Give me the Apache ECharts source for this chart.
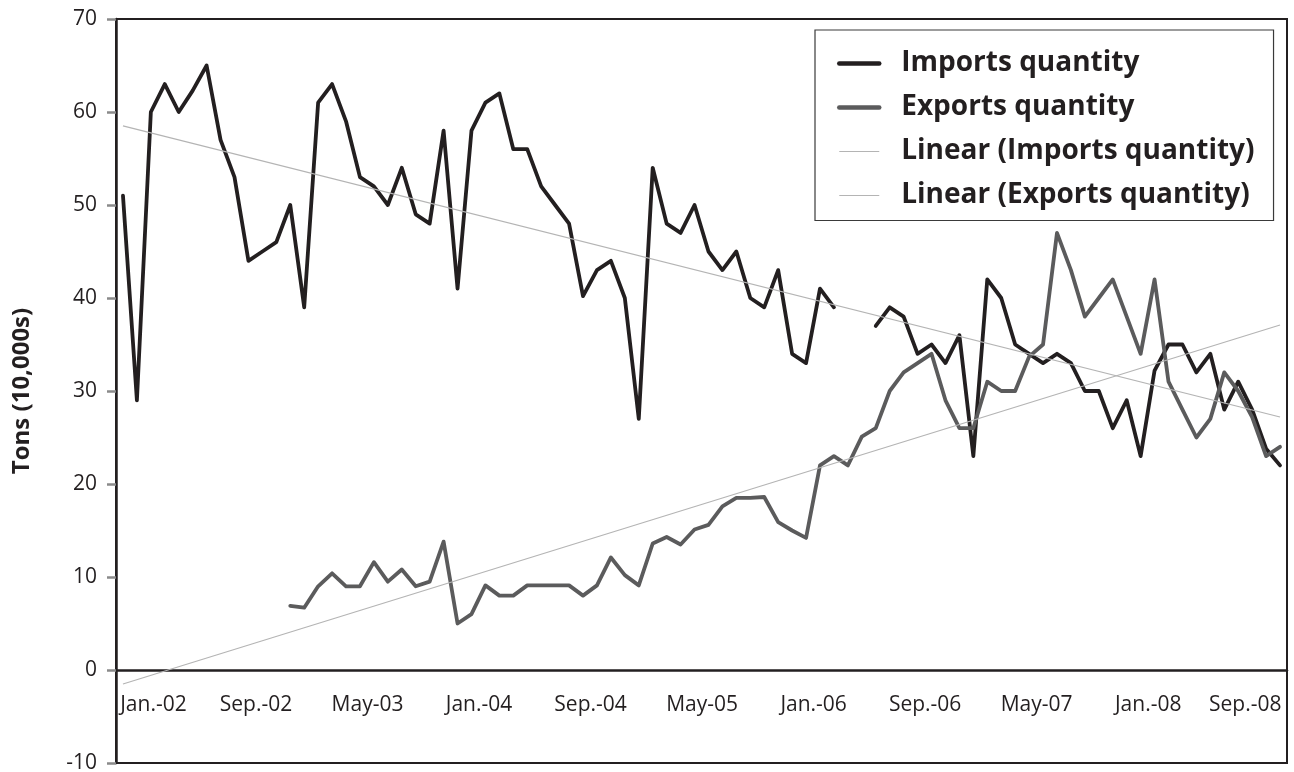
<!DOCTYPE html>
<html>
<head>
<meta charset="utf-8">
<script src="https://cdn.jsdelivr.net/npm/echarts@6/dist/echarts.min.js"></script>
<style>
html,body{margin:0;padding:0;background:#fff;}
#chart{width:1294px;height:772px;}
</style>
</head>
<body>
<div id="chart"></div>
<script>
// ---- Data ----
var startYear = 2002;
var monthNames = ['Jan.','Feb.','Mar.','Apr.','May','Jun.','Jul.','Aug.','Sep.','Oct.','Nov.','Dec.'];
var monthCount = 84; // Jan 2002 .. Dec 2008

var importsQuantity = [
  51, 29, 60, 63, 60, 62.3, 65, 57, 53, 44,
  45, 46, 50, 39, 61, 63, 59, 53, 52, 50,
  54, 49, 48, 58, 41, 58, 61, 62, 56, 56,
  52, 50, 48, 40.2, 43, 44, 40, 27, 54, 48,
  47, 50, 45, 43, 45, 40, 39, 43, 34, 33,
  41, 39, null, null, 37, 39, 38, 34, 35, 33,
  36, 23, 42, 40, 35, 34, 33, 34, 33, 30,
  30, 26, 29, 23, 32.2, 35, 35, 32, 34, 28,
  31, 28, 23.8, 22
];

var exportsQuantity = [
  null, null, null, null, null, null, null, null, null, null,
  null, null, 6.9, 6.7, 9, 10.4, 9, 9, 11.6, 9.5,
  10.8, 9, 9.5, 13.8, 5, 6, 9.1, 8, 8, 9.1,
  9.1, 9.1, 9.1, 8, 9.1, 12.1, 10.2, 9.1, 13.6, 14.3,
  13.5, 15.1, 15.6, 17.6, 18.5, 18.5, 18.6, 15.9, 15, 14.2,
  22, 23, 22, 25.1, 26, 30, 32, 33, 34, 29,
  26, 26, 31, 30, 30, 33.7, 35, 47, 43, 38,
  40, 42, 38, 34, 42, 31, 28, 25, 27, 32,
  30, 27.2, 23, 24
];

// Trend line end points (first and last month)
var importsTrendEnds = [58.5, 27.2];
var exportsTrendEnds = [-1.5, 37.1];

var yTicks = { min: -10, max: 70, interval: 10 };
var seriesNames = ['Imports quantity', 'Exports quantity', 'Linear (Imports quantity)', 'Linear (Exports quantity)'];

// ---- Build categories ----
var categories = [];
for (var i = 0; i < monthCount; i++) {
  var y = startYear + Math.floor(i / 12);
  categories.push(monthNames[i % 12] + '-' + String(y).slice(2));
}
function trendData(ends) {
  var arr = new Array(monthCount).fill(null);
  arr[0] = ends[0];
  arr[monthCount - 1] = ends[1];
  return arr;
}

var FONT = 'Open Sans';
var INK = '#231f20';
var EXP = '#5b5b5c';
var TREND = '#b4b4b4';
function rich(padLeft) {
  return { fontFamily: FONT, fontSize: 21, color: INK, padding: [0, 0, 0, padLeft] };
}

var chart = echarts.init(document.getElementById('chart'), null, { renderer: 'canvas' });
chart.setOption({
  animation: false,
  backgroundColor: '#fff',
  grid: {
    left: 116, top: 19, right: 7, bottom: 9,
    containLabel: false,
    outerBoundsMode: 'none',
    show: true, borderColor: INK, borderWidth: 2, backgroundColor: 'transparent'
  },
  legend: {
    orient: 'vertical',
    left: 815, top: 30,
    backgroundColor: '#fff',
    borderColor: '#3a3a3a', borderWidth: 1.2,
    padding: [18.5, 19, 10, 22],
    itemWidth: 40, itemHeight: 14, itemGap: 14,
    itemStyle: { opacity: 0, color: 'rgba(0,0,0,0)', borderWidth: 0 },
    textStyle: { fontFamily: FONT, fontWeight: 'bold', fontSize: 28, color: INK, lineHeight: 30, padding: [0, 0, 0, 17] },
    data: [
      { name: seriesNames[0], lineStyle: { width: 4.5, color: INK, cap: 'round' } },
      { name: seriesNames[1], lineStyle: { width: 4.5, color: EXP, cap: 'round' } },
      { name: seriesNames[2], lineStyle: { width: 1.2, color: TREND } },
      { name: seriesNames[3], lineStyle: { width: 1.2, color: TREND } }
    ]
  },
  xAxis: {
    type: 'category',
    data: categories,
    boundaryGap: true,
    position: 'bottom',
    offset: 0,
    axisLine: { onZero: false, lineStyle: { color: INK, width: 2.5 } },
    axisTick: { interval: 7, length: 7, lineStyle: { color: INK, width: 1.5 } },
    axisLabel: {
      interval: 7, margin: 25,
      fontFamily: FONT, fontSize: 21, color: INK,
      formatter: function (val, idx) {
        if (idx === 0) return '{a|' + val + '}';
        if (idx === monthCount - 4) return '{c|' + val + '}';
        return '{b|' + val + '}';
      },
      rich: { a: rich(61), b: rich(43), c: rich(14) }
    },
    splitLine: { show: false }
  },
  yAxis: {
    type: 'value',
    min: yTicks.min, max: yTicks.max, interval: yTicks.interval,
    name: 'Tons (10,000s)',
    nameLocation: 'middle', nameGap: 82,
    nameTextStyle: { fontFamily: FONT, fontWeight: 'bold', fontSize: 24, color: INK },
    axisLine: { show: true, onZero: false, lineStyle: { color: INK, width: 2.5 } },
    axisTick: { show: true, inside: false, length: 9, lineStyle: { color: '#8a8a8a', width: 2.5 } },
    axisLabel: { margin: 19, fontFamily: FONT, fontSize: 21, color: INK },
    splitLine: { show: false }
  },
  series: [
    {
      name: seriesNames[0], type: 'line', data: importsQuantity, symbol: 'none',
      lineStyle: { color: INK, width: 3.8, join: 'round', cap: 'round' },
      itemStyle: { color: INK }, z: 3
    },
    {
      name: seriesNames[1], type: 'line', data: exportsQuantity, symbol: 'none',
      lineStyle: { color: EXP, width: 3.8, join: 'round', cap: 'round' },
      itemStyle: { color: EXP }, z: 4
    },
    {
      name: seriesNames[2], type: 'line', data: trendData(importsTrendEnds), symbol: 'none',
      connectNulls: true,
      lineStyle: { color: TREND, width: 1.2 }, itemStyle: { color: TREND }, z: 5
    },
    {
      name: seriesNames[3], type: 'line', data: trendData(exportsTrendEnds), symbol: 'none',
      connectNulls: true,
      lineStyle: { color: TREND, width: 1.2 }, itemStyle: { color: TREND }, z: 5
    }
  ]
});

// Put the category axis on the zero line of the value axis (positions from the library's scale)
var zeroY = chart.convertToPixel({ yAxisIndex: 0 }, 0);
var bottomY = chart.convertToPixel({ yAxisIndex: 0 }, yTicks.min);
chart.setOption({ xAxis: { offset: -(bottomY - zeroY) } });
</script>
</body>
</html>
